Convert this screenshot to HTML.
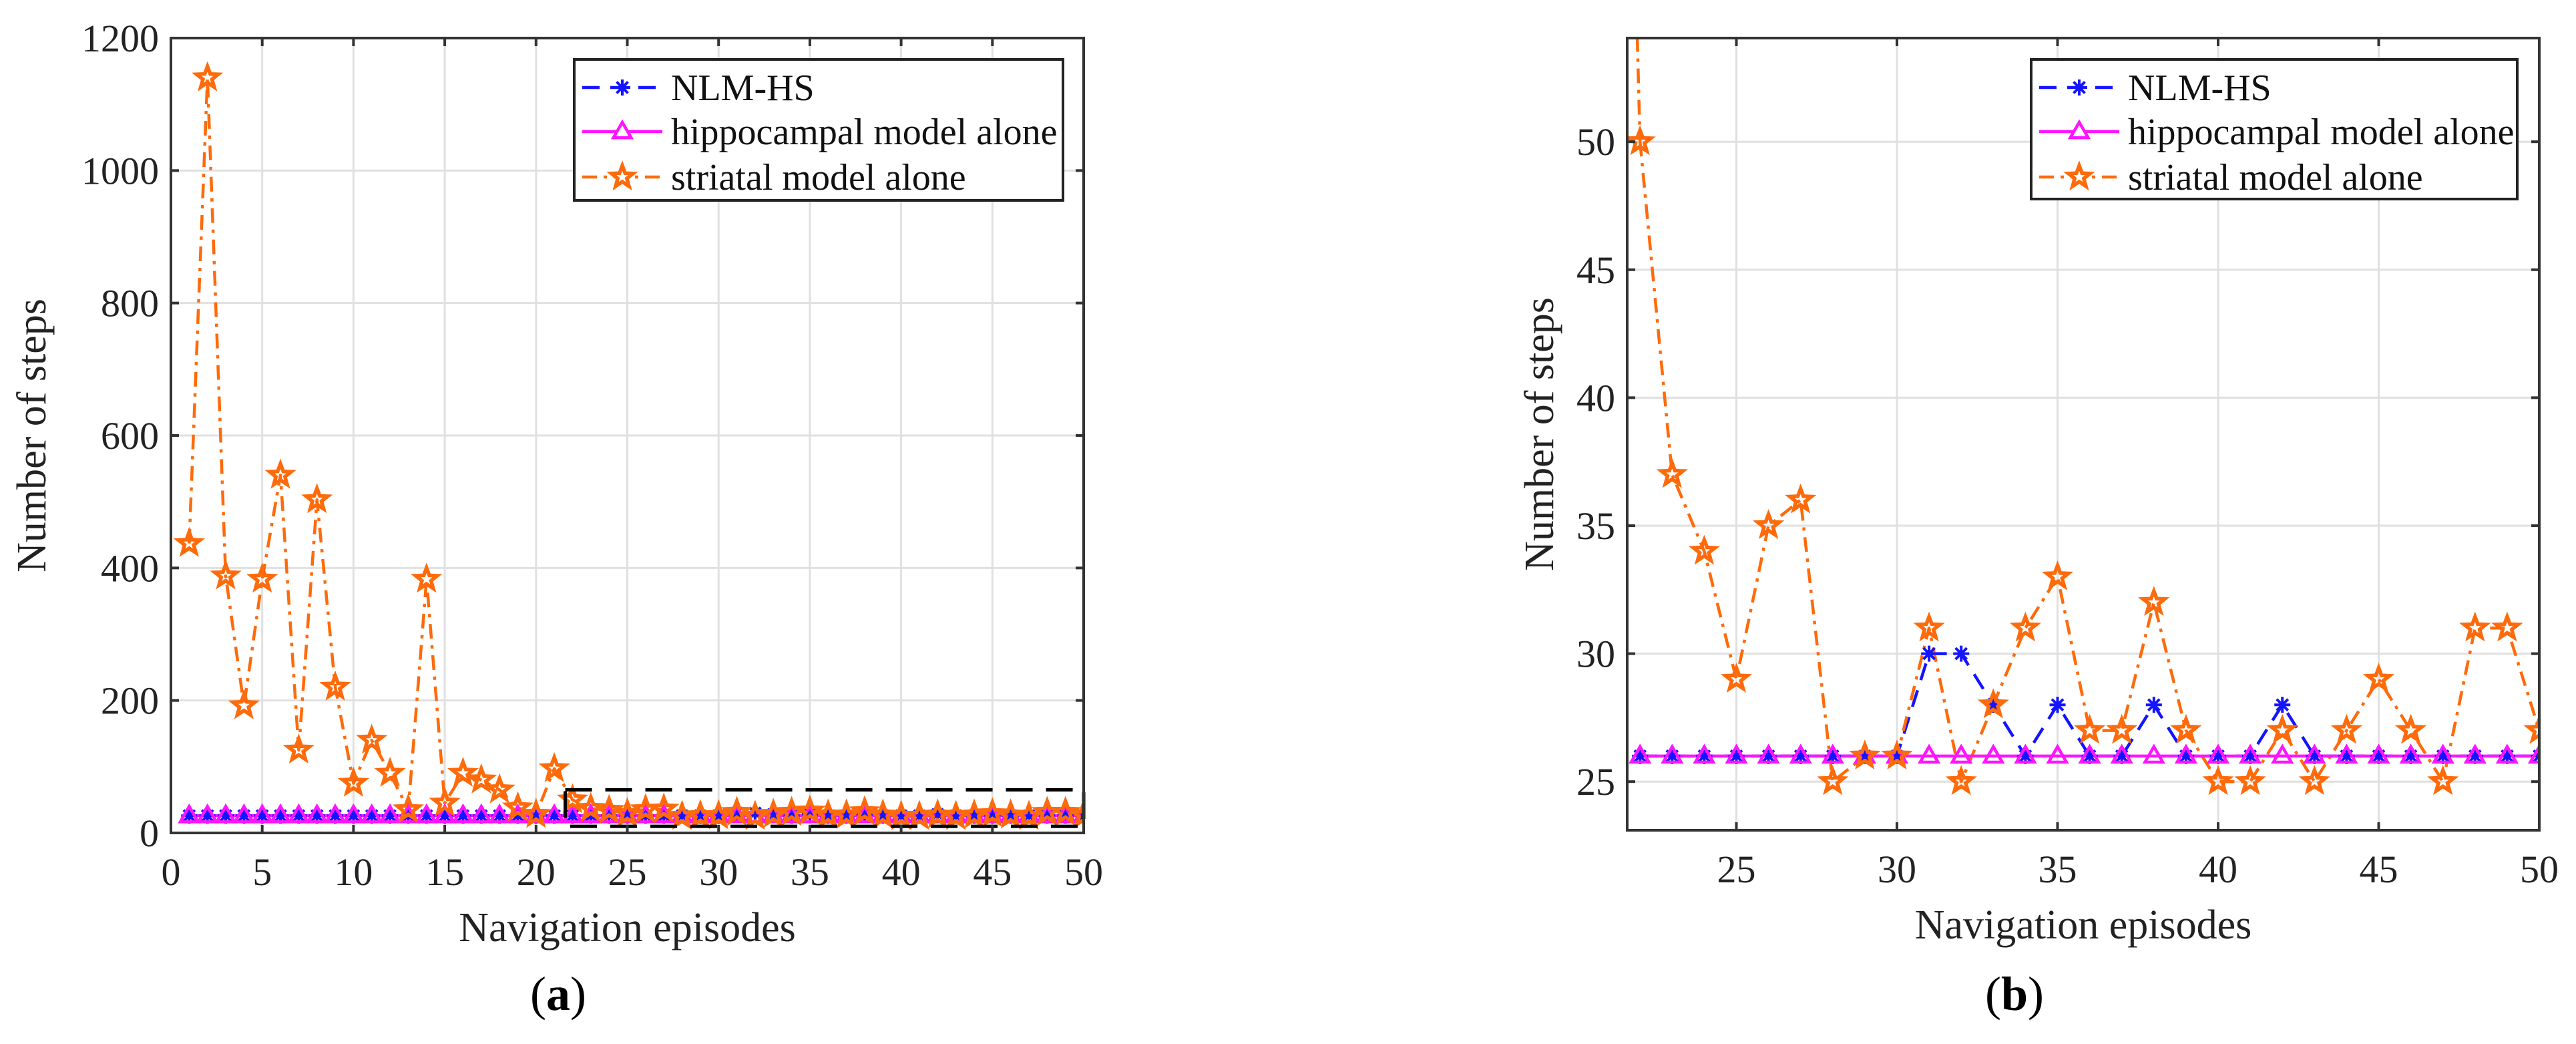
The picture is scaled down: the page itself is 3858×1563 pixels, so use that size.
<!DOCTYPE html>
<html><head><meta charset="utf-8"><style>
html,body{margin:0;padding:0;background:#fff;}
svg, svg text{font-family:"Liberation Serif","Times New Roman","DejaVu Serif",serif;}
</style></head><body>
<svg id="fig" width="3858" height="1558" viewBox="0 0 3858 1558" xmlns="http://www.w3.org/2000/svg" font-family="Liberation Serif, DejaVu Serif, serif">
<rect width="3858" height="1558" fill="#fff"/>
<g id="pa"></g>
<g id="pb"></g>
<text x="836" y="1512" font-size="72" text-anchor="middle" fill="#000" font-family="Liberation Serif, serif">(<tspan font-weight="bold">a</tspan>)</text>
<text x="3017" y="1512" font-size="72" text-anchor="middle" fill="#000" font-family="Liberation Serif, serif">(<tspan font-weight="bold">b</tspan>)</text>
</svg>
<script>
const episodes = Array.from({length:50},(_, i)=>i+1);
const striatalSteps = [437,1140,388,192,383,540,125,503,220,75,140,90,35,383,45,90,80,65,38,28,97,50,37,34,29,35,36,25,26,26,31,25,28,31,33,27,27,32,27,25,25,27,25,27,29,27,25,31,31,27];
const nlmSteps = [26,26,26,26,26,26,26,26,26,26,26,26,26,26,26,26,26,26,26,26,26,26,26,26,26,26,26,26,26,26,30,30,28,26,28,26,26,28,26,26,26,28,26,26,26,26,26,26,26,26];
const hippoSteps = [26,26,26,26,26,26,26,26,26,26,26,26,26,26,26,26,26,26,26,26,26,26,26,26,26,26,26,26,26,26,26,26,26,26,26,26,26,26,26,26,26,26,26,26,26,26,26,26,26,26];
const xTicksA = [0,5,10,15,20,25,30,35,40,45,50];
const yTicksA = [0,200,400,600,800,1000,1200];
const xTicksB = [25,30,35,40,45,50];
const yTicksB = [25,30,35,40,45,50];
const legendLabels = ["NLM-HS","hippocampal model alone","striatal model alone"];

const NS="http://www.w3.org/2000/svg";
const FF="Liberation Serif, DejaVu Serif, serif";
function mk(tag,attrs,parent){const e=document.createElementNS(NS,tag);for(const k in attrs)e.setAttribute(k,attrs[k]);if(tag==='text')e.setAttribute('font-family',FF);parent.appendChild(e);return e;}
function starPts(cx,cy,r){let p=[];for(let i=0;i<10;i++){const a=-Math.PI/2+i*Math.PI/5;const rr=i%2?r*0.42:r;p.push((cx+rr*Math.cos(a)).toFixed(1)+","+(cy+rr*Math.sin(a)).toFixed(1));}return p.join(" ");}
function triPts(cx,cy,r){return `${cx},${cy-r} ${cx+r*0.95},${cy+r*0.65} ${cx-r*0.95},${cy+r*0.65}`;}
function asterisk(g,cx,cy,r,color){for(let i=0;i<4;i++){const a=i*Math.PI/4;mk('line',{x1:cx-r*Math.cos(a),y1:cy-r*Math.sin(a),x2:cx+r*Math.cos(a),y2:cy+r*Math.sin(a),stroke:color,'stroke-width':4},g);}}

function panel(g,o){
  const {L,R,T,B,x0,x1,y0,y1,xt,yt,legL,legR,legT,legB,first,pname}=o;
  const sx=v=>L+(v-x0)/(x1-x0)*(R-L);
  const sy=v=>B-(v-y0)/(y1-y0)*(B-T);
  const grid=mk('g',{},g);
  
  
  xt.forEach(v=>{mk('line',{x1:sx(v),x2:sx(v),y1:T,y2:B,stroke:'#e0e0e0','stroke-width':3},grid);});
  yt.forEach(v=>{mk('line',{x1:L,x2:R,y1:sy(v),y2:sy(v),stroke:'#e0e0e0','stroke-width':3},grid);});
  const clipId=pname+'-clip';
  const cp=mk('clipPath',{id:clipId},g);mk('rect',{x:L,y:T,width:R-L,height:B-T},cp);
  const data=mk('g',{'clip-path':`url(#${clipId})`},g);
  const idx=episodes.map((e,i)=>i).filter(i=>episodes[i]>=first);
  function line(arr,color,dash,name){
    const pts=idx.map(i=>sx(episodes[i]).toFixed(1)+","+sy(arr[i]).toFixed(1)).join(" ");
    const pl=mk('polyline',{points:pts,fill:'none',stroke:color,'stroke-width':4.5,'stroke-dasharray':dash,'stroke-linejoin':'round'},data);
    
    
  }
  if(first>1){const i=first-2;const s=mk('line',{x1:sx(episodes[i]),y1:sy(striatalSteps[i]),x2:sx(episodes[i+1]),y2:sy(striatalSteps[i+1]),stroke:'#ff6a0a','stroke-width':4.5,'stroke-dasharray':'22 10 5 10'},data);
    
    }
  line(nlmSteps,'#1414ff','26 16','nlm-hs-line');
  line(striatalSteps,'#ff6a0a','22 10 5 10','striatal-line');
  line(hippoSteps,'#ff14ff','none','hippocampal-line');
  idx.forEach(i=>{
    const m=mk('g',{},data);
    
    
    asterisk(m,sx(episodes[i]),sy(nlmSteps[i]),12,'#1414ff');
  });
  idx.forEach(i=>{
    const t=mk('polygon',{points:triPts(sx(episodes[i]),sy(hippoSteps[i]),14),fill:'none',stroke:'#ff14ff','stroke-width':4.5},data);
    
    
  });
  idx.forEach(i=>{
    const s=mk('polygon',{points:starPts(sx(episodes[i]),sy(striatalSteps[i]),17),fill:'none',stroke:'#ff6a0a','stroke-width':5.5,'stroke-linejoin':'miter'},data);
    
    
  });
  if(o.box){
    const bx=mk('rect',{x:sx(o.box[0]),y:sy(o.box[3]),width:sx(o.box[1])-sx(o.box[0]),height:sy(o.box[2])-sy(o.box[3]),fill:'none',stroke:'#000','stroke-width':5,'stroke-dasharray':'40 20'},g);
    
    
  }
  const ax=mk('rect',{x:L,y:T,width:R-L,height:B-T,fill:'none',stroke:'#333','stroke-width':4},g);
  
  
  xt.forEach(v=>{
    mk('line',{x1:sx(v),x2:sx(v),y1:B,y2:B-12,stroke:'#333','stroke-width':4},g);
    mk('line',{x1:sx(v),x2:sx(v),y1:T,y2:T+12,stroke:'#333','stroke-width':4},g);
    const t=mk('text',{x:sx(v),y:B+78,'font-size':58,'text-anchor':'middle',fill:'#222'},g);
    t.textContent=v;
    
    
  });
  yt.forEach(v=>{
    mk('line',{x1:L,x2:L+12,y1:sy(v),y2:sy(v),stroke:'#333','stroke-width':4},g);
    mk('line',{x1:R,x2:R-12,y1:sy(v),y2:sy(v),stroke:'#333','stroke-width':4},g);
    const t=mk('text',{x:L-18,y:sy(v)+20,'font-size':58,'text-anchor':'end',fill:'#222'},g);
    t.textContent=v;
    
    
  });
  const xl=mk('text',{x:(L+R)/2,y:B+162,'font-size':62,'text-anchor':'middle',fill:'#222'},g);
  xl.textContent='Navigation episodes';
  
  
  const yl=mk('text',{x:0,y:0,'font-size':62,'text-anchor':'middle',fill:'#222',transform:`translate(${o.ylabX},${(T+B)/2}) rotate(-90)`},g);
  yl.textContent='Number of steps';
  
  
  const lg=mk('g',{},g);
  
  
  mk('rect',{x:legL,y:legT,width:legR-legL,height:legB-legT,fill:'#fff',stroke:'#222','stroke-width':4},lg);
  const rows=[legT+42,legT+108,legT+176];
  const styles=[['#1414ff','26 16'],['#ff14ff','none'],['#ff6a0a','22 10 5 10']];
  legendLabels.forEach((lab,k)=>{
    const e=mk('g',{},lg);
    
    
    const y=rows[k];
    mk('line',{x1:legL+12,x2:legL+132,y1:y,y2:y,stroke:styles[k][0],'stroke-width':4.5,'stroke-dasharray':styles[k][1]},e);
    const cx=legL+72;
    if(k===0)asterisk(e,cx,y,12,'#1414ff');
    if(k===1)mk('polygon',{points:triPts(cx,y,14),fill:'#fff',stroke:'#ff14ff','stroke-width':4.5},e);
    if(k===2)mk('polygon',{points:starPts(cx,y,17),fill:'#fff',stroke:'#ff6a0a','stroke-width':5.5},e);
    const t=mk('text',{x:legL+145,y:y+19,'font-size':56,fill:'#111'},e);
    t.textContent=lab;
  });
}
panel(document.getElementById('pa'),{pname:'panel-a',L:256,R:1623,T:57,B:1247,x0:0,x1:50,y0:0,y1:1200,xt:xTicksA,yt:yTicksA,first:1,legL:860,legR:1592,legT:89,legB:300,ylabX:68,box:[21.6,50,10,65]});
panel(document.getElementById('pb'),{pname:'panel-b',L:2437,R:3803,T:57,B:1243,x0:21.6,x1:50,y0:23.1,y1:54.05,xt:xTicksB,yt:yTicksB,first:22,legL:3042,legR:3770,legT:89,legB:298,ylabX:2326});
</script>
</body></html>
